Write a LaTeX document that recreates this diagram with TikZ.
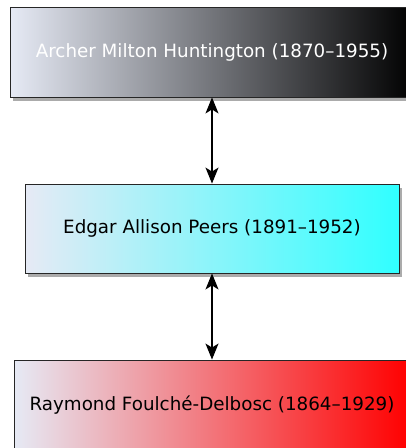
\documentclass[tikz,border=0pt]{standalone}
\usepackage{fontspec}
\setmainfont{DejaVu Sans}
\usetikzlibrary{arrows.meta,shadows}
\definecolor{boxleft}{HTML}{E6EAF5}
\definecolor{cyanright}{HTML}{30FFFF}
\definecolor{redright}{HTML}{FF0000}
\tikzset{
  person/.style={draw=black!85, line width=0.9pt, rectangle, inner sep=0pt,
    font=\fontsize{18.3}{22}\selectfont,
    drop shadow={shadow xshift=2.5pt, shadow yshift=-3.5pt, opacity=0.55, fill=black!60}},
  link/.style={line width=1.2pt, {Stealth[length=16pt,width=13pt,inset=4pt]}-{Stealth[length=16pt,width=13pt,inset=4pt]}}
}
\begin{document}
\begin{tikzpicture}[x=1pt,y=-1pt]
\useasboundingbox (0,0) rectangle (406,448);
\clip (0,0) rectangle (406,448);
\node[person, minimum width=404pt, minimum height=90pt, left color=boxleft, right color=black, text=white] (top) at (212,52) {Archer Milton Huntington (1870–1955)};
\node[person, minimum width=374pt, minimum height=89pt, left color=boxleft, right color=cyanright] (mid) at (212,228.5) {Edgar Allison Peers (1891–1952)};
\node[person, minimum width=396pt, minimum height=90pt, left color=boxleft, right color=redright] (bot) at (212,405) {Raymond Foulché-Delbosc (1864–1929)};
\draw[link] (top.south) -- (mid.north);
\draw[link] (mid.south) -- (bot.north);
\end{tikzpicture}
\end{document}
